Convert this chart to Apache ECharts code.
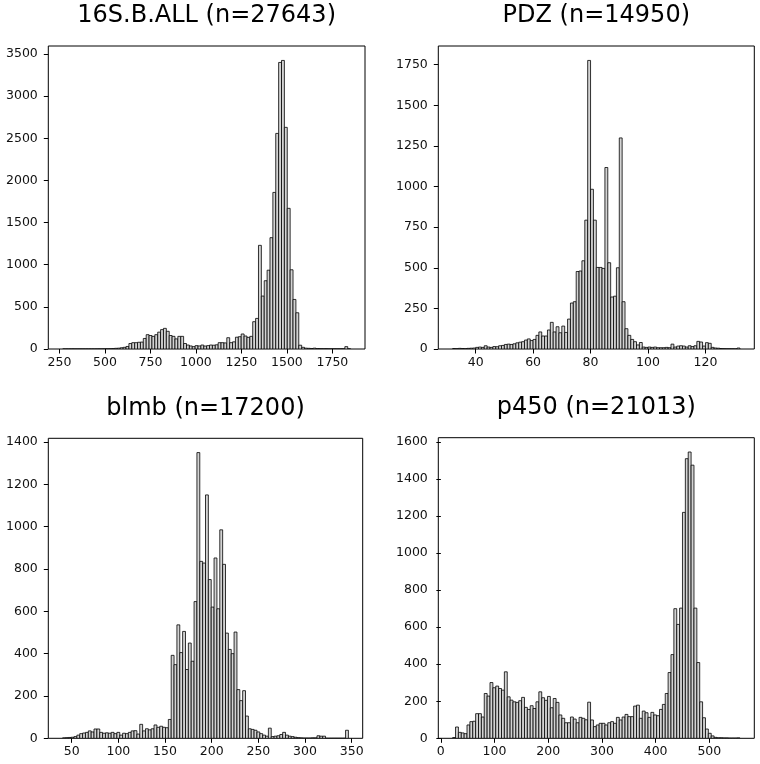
<!DOCTYPE html>
<html>
<head>
<meta charset="utf-8">
<script src="https://cdn.jsdelivr.net/npm/echarts@6/dist/echarts.min.js"></script>
<style>html,body{margin:0;padding:0;background:#fff}#c{width:760px;height:764px}</style>
</head>
<body>
<div id="c"></div>
<script>
// ---- data (counts per bin, 100 bins each) ----
const titles = ['16S.B.ALL (n=27643)', 'PDZ (n=14950)', 'blmb (n=17200)', 'p450 (n=21013)'];
const binRange16S = [268, 1850];
const binRangePDZ = [32, 132];
const binRangeBlmb = [40.2, 346.5];
const binRangeP450 = [22, 557];

const counts16S = [
  0,0,0,1,0,0,0,0,0,0,
  0,0,1,0,1,2,3,5,8,10,
  15,20,30,65,75,75,80,82,125,170,
  160,150,170,200,230,245,210,160,150,120,
  150,150,65,47,36,28,40,36,47,35,
  40,47,45,50,75,75,72,134,75,85,
  140,146,178,154,138,150,324,363,1230,628,
  810,935,1321,1858,2558,3400,3424,2630,1669,940,
  588,430,45,20,10,8,6,10,5,4,
  3,4,2,2,2,1,1,2,28,2
];
const countsPDZ = [
  3,2,4,3,2,4,5,6,10,12,
  10,20,12,10,15,14,20,22,28,30,
  28,32,38,42,45,55,62,52,59,84,
  105,80,80,117,164,105,137,100,141,102,
  184,283,291,477,480,543,793,1776,983,793,
  502,502,496,1117,531,320,325,500,1299,291,
  125,84,59,45,25,40,12,10,12,10,
  12,8,8,8,10,8,30,12,18,20,
  18,12,20,15,20,47,43,18,39,35,
  10,6,5,3,2,1,1,1,0,6
];
const countsBlmb = [
  2,3,4,5,8,15,22,25,28,35,
  30,44,44,28,24,26,24,28,22,28,
  15,24,22,28,35,36,20,66,35,45,
  40,45,63,52,57,52,50,89,392,348,
  536,405,505,325,450,364,646,1350,836,828,
  1150,750,620,852,612,985,822,497,420,400,
  502,230,178,225,105,45,42,38,30,22,
  15,10,48,8,10,12,18,28,15,10,
  8,5,3,2,1,1,1,2,2,12,
  10,10,0,0,0,0,0,0,0,38
];
const countsP450 = [
  4,61,32,29,25,72,90,92,133,133,
  115,242,228,301,273,282,269,260,359,224,
  206,197,194,203,221,167,156,176,161,197,
  251,219,205,226,165,215,194,126,108,84,
  84,115,104,84,113,108,100,195,99,63,
  72,81,81,72,84,90,81,113,99,115,
  129,117,117,174,179,108,147,138,113,140,
  126,122,156,183,242,355,452,700,615,703,
  1220,1510,1546,1475,703,409,197,111,50,27,
  13,5,3,3,2,2,1,1,1,2
];

const xTicks16S = [250,500,750,1000,1250,1500,1750];
const yTicks16S = [0,500,1000,1500,2000,2500,3000,3500];
const xTicksPDZ = [40,60,80,100,120];
const yTicksPDZ = [0,250,500,750,1000,1250,1500,1750];
const xTicksBlmb = [50,100,150,200,250,300,350];
const yTicksBlmb = [0,200,400,600,800,1000,1200,1400];
const xTicksP450 = [0,100,200,300,400,500];
const yTicksP450 = [0,200,400,600,800,1000,1200,1400,1600];

// ---- layout ----
const panels = [
  {range: binRange16S, counts: counts16S, xt: xTicks16S, yt: yTicks16S, l: 48.3, t: 46, r: 365, b: 349},
  {range: binRangePDZ, counts: countsPDZ, xt: xTicksPDZ, yt: yTicksPDZ, l: 438.3, t: 46, r: 754.3, b: 349},
  {range: binRangeBlmb, counts: countsBlmb, xt: xTicksBlmb, yt: yTicksBlmb, l: 48.3, t: 438.3, r: 362.7, b: 738.3},
  {range: binRangeP450, counts: countsP450, xt: xTicksP450, yt: yTicksP450, l: 438.3, t: 437.7, r: 754.3, b: 738.3}
];

const FONT = 'DejaVu Sans';
const plain = v => String(v);
const grid = [], xAxis = [], yAxis = [], series = [], graphic = [];
panels.forEach((p, i) => {
  const lo = p.range[0], hi = p.range[1];
  const n = p.counts.length, w = (hi - lo) / n;
  const span = hi - lo;
  const ymax = Math.max(...p.counts) * 1.05;
  grid.push({left: p.l, top: p.t, width: p.r - p.l, height: p.b - p.t,
    show: true, borderColor: '#000', borderWidth: 1, backgroundColor: 'transparent'});
  xAxis.push({type: 'value', gridIndex: i, min: lo - 0.05 * span, max: hi + 0.05 * span,
    axisLine: {show: false}, splitLine: {show: false},
    axisTick: {show: true, length: 4.5, inside: false, customValues: p.xt, lineStyle: {color: '#000', width: 1}},
    axisLabel: {show: true, customValues: p.xt, formatter: plain, margin: 7, color: '#111', fontFamily: FONT, fontSize: 12.5}});
  yAxis.push({type: 'value', gridIndex: i, min: 0, max: ymax,
    axisLine: {show: false}, splitLine: {show: false},
    axisTick: {show: true, length: 4.5, inside: false, customValues: p.yt, lineStyle: {color: '#000', width: 1}},
    axisLabel: {show: true, customValues: p.yt, formatter: plain, margin: 10.5, color: '#111', fontFamily: FONT, fontSize: 12.5}});
  const data = p.counts.map((c, k) => [lo + k * w, lo + (k + 1) * w, c]);
  series.push({type: 'custom', xAxisIndex: i, yAxisIndex: i, data: data,
    encode: {x: [0, 1], y: 2}, silent: true, animation: false, clip: true,
    renderItem: function (params, api) {
      const a = api.coord([api.value(0), 0]);
      const b = api.coord([api.value(1), api.value(2)]);
      return {type: 'rect', shape: {x: a[0], y: b[1], width: b[0] - a[0], height: a[1] - b[1]},
        style: {fill: '#d3d3d3', stroke: '#000', lineWidth: 0.8}};
    }});
  graphic.push({type: 'text', x: (p.l + p.r) / 2, y: p.t - 30,
    style: {text: titles[i], fill: '#000', font: '24px "DejaVu Sans"', textAlign: 'center', textVerticalAlign: 'middle'}});
});

const chart = echarts.init(document.getElementById('c'), null, {renderer: 'canvas'});
chart.setOption({animation: false, backgroundColor: '#fff', grid, xAxis, yAxis, series, graphic});
</script>
</body>
</html>
